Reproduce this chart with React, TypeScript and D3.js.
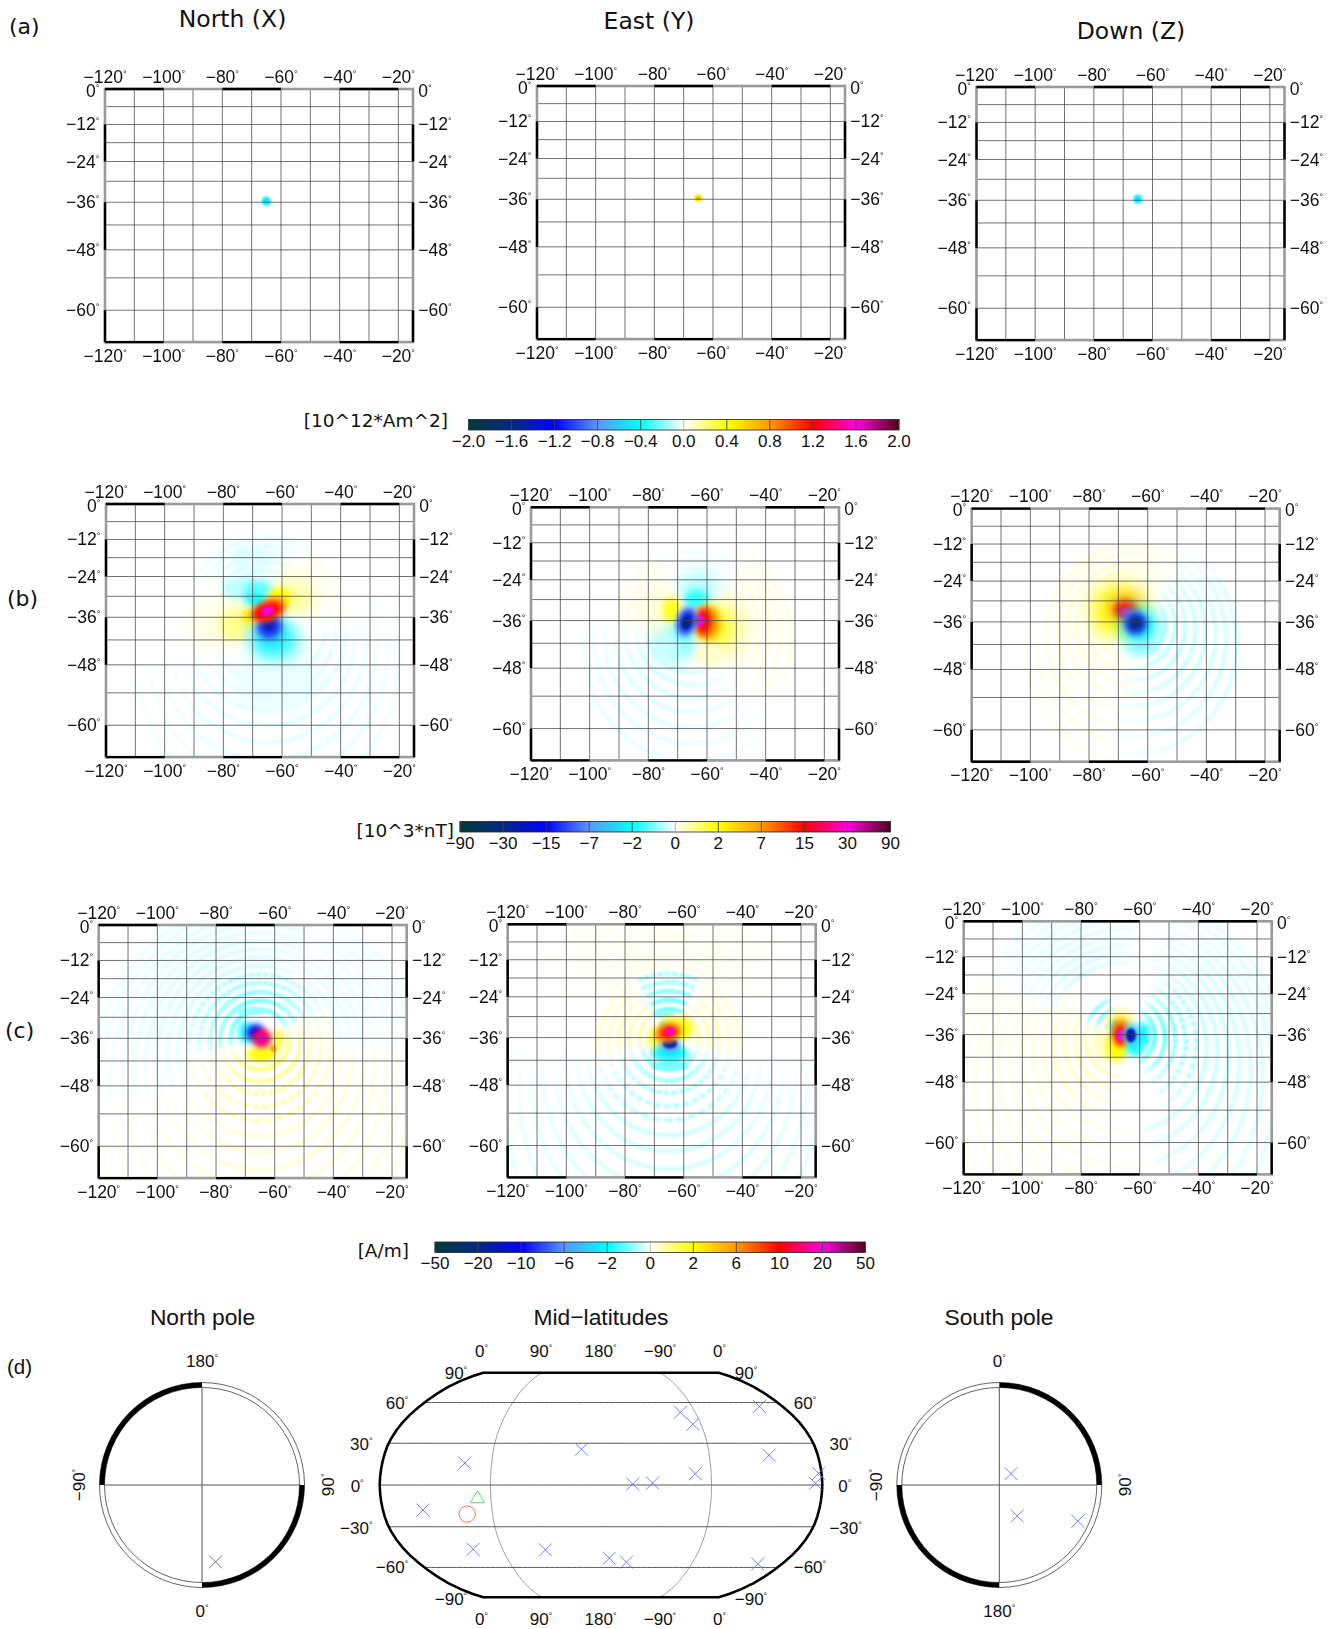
import React from 'react';
import * as d3 from 'd3';

const W = 1341;
const H = 1629;
const SANS = '"Liberation Sans", Arial, sans-serif';
const DEJA = '"DejaVu Sans", sans-serif';

// map axes
const lonExtent = [-120, -15];
const latExtent = [0, -65];
const lonTicks = [-120, -100, -80, -60, -40, -20];
const latTicks = [0, -12, -24, -36, -48, -60];
const lonGrid = [-110, -100, -90, -80, -70, -60, -50, -40, -30, -20];
const latGrid = [-6, -12, -18, -24, -30, -36, -42, -48, -54, -60];
const source = [-65, -36];

// colour scale, -1..1 along the bar
const colorPos = [-1, -0.8, -0.6, -0.4, -0.2, 0, 0.2, 0.4, 0.6, 0.8, 1];
const colorStops = ['#003a3a', '#002a82', '#0000ff', '#5a96ff', '#00ffff', '#ffffff', '#ffff00', '#ff9a00', '#ff0000', '#ff00e0', '#500018'];
const fieldColor = d3.scaleLinear<string>().domain(colorPos).range(colorStops).clamp(true);

const ticksA = ['−2.0', '−1.6', '−1.2', '−0.8', '−0.4', '0.0', '0.4', '0.8', '1.2', '1.6', '2.0'];
const ticksB = ['−90', '−30', '−15', '−7', '−2', '0', '2', '7', '15', '30', '90'];
const ticksC = ['−50', '−20', '−10', '−6', '−2', '0', '2', '6', '10', '20', '50'];

// field lobes: lon offset, lat offset, radius lon-ish, radius lat-ish (arc deg), rotation, value
type Lobe = [number, number, number, number, number, number];
const lobesA1: Lobe[] = [[0, 0.3, 1.0, 1.0, 0, -0.2], [0, 0.3, 0.4, 0.4, 0, -0.3]];
const lobesA2: Lobe[] = [[0, 0.3, 0.8, 0.8, 0, 0.2], [0, 0.3, 0.3, 0.3, 0, 0.42]];
const lobesA3: Lobe[] = [[0, 0.3, 1.0, 1.0, 0, -0.2], [0, 0.3, 0.4, 0.4, 0, -0.3]];
const lobesB1: Lobe[] = [
  [3.2, -15.3, 11.9, 8.3, 0, -0.018], [10, 8.5, 6.4, 6.4, 0, 0.02], [-19.5, -2.5, 5.5, 5.5, 0, 0.02],
  [-5.3, 17.7, 5.5, 3.2, 0, -0.025], [-8.2, 8.1, 5.5, 3.2, 0, -0.05], [-3.1, 7.2, 4.1, 2.8, 0, -0.12],
  [-3.9, 4.7, 2.6, 1.8, 0, -0.2], [-11.6, -2.5, 3.2, 3.7, 0, 0.07], [-9.3, -1.6, 5, 4.1, 0, 0.09],
  [8.9, 5.3, 4.6, 3.7, 0, 0.09], [4.3, 5.8, 2.8, 2.3, 0, 0.2], [2.6, -6.1, 6.4, 5, 0, -0.15],
  [0.9, -4.3, 4.1, 3.7, 0, -0.26], [0.6, -2.5, 3.2, 3.2, 0, -0.5], [0.6, -2.1, 1.7, 1.7, 0, -0.72],
  [-5.9, 0.1, 2, 1.7, 0, 0.25], [3.2, 3.8, 2.6, 2, 0, 0.3], [0.3, 1.7, 4.4, 2.4, -20, 0.5],
  [-0.2, 1.7, 3.5, 1.7, -20, 0.6], [0.1, 1.8, 1.6, 1, -20, 0.8],
];
const lobesB2: Lobe[] = [
  [2, 8.9, 5, 4.6, 0, -0.06], [1.5, 6.1, 3.2, 2.3, 0, -0.16], [-5.3, -4.9, 4.6, 5, 0, -0.14],
  [-8.8, -7.2, 4.6, 4.6, 0, -0.04], [-11, 2.9, 4.6, 5.5, 0, 0.03], [-7, 2.9, 2.3, 3.2, 0, 0.18],
  [12.8, -2.6, 5.5, 8.3, 0, 0.04], [8.3, -1.7, 5, 5.5, 0, 0.16], [6, -9, 3.7, 2.8, 0, 0.04],
  [5.5, -0.7, 3.2, 4.6, 0, 0.35], [3.8, -0.3, 2.2, 3.5, 0, 0.58], [2.7, 0, 1, 1.4, 0, 0.78],
  [-1.9, -0.3, 2.4, 3.9, 15, -0.4], [-1.9, -0.3, 1.7, 2.8, 15, -0.65], [-1.9, -0.7, 0.9, 1.3, 15, -0.82],
];
const lobesB3: Lobe[] = [
  [-4.5, 3.3, 9.2, 9.2, 0, 0.05], [-5.1, 4.2, 6.4, 5.5, 0, 0.16], [-6.8, 0.6, 3.7, 3.7, 0, 0.18],
  [-2.8, 3.8, 4.1, 3.7, 0, 0.38], [-2.5, 3.3, 2.9, 2.3, 0, 0.58], [-2.7, 2.6, 1.1, 1.3, 0, 0.72],
  [3.4, -7.2, 4.6, 1.4, 0, -0.05], [2.3, -1.3, 4.8, 5, 0, -0.22], [0.9, -0.4, 2.9, 2.9, 0, -0.5],
  [0.9, -0.4, 1.8, 1.8, 0, -0.82],
];
const lobesC1: Lobe[] = [
  [0.6, -4.3, 4.1, 1.7, 0, 0.2], [-3.4, 7.8, 4.1, 0.9, 0, -0.08], [-5.1, 1.8, 1.8, 2.8, 0, -0.15],
  [6.2, -0.5, 1.4, 2.8, 0, 0.15], [4.5, -2.8, 0.7, 0.7, 0, 0.35], [-2.3, 1.4, 2.4, 2.2, 0, -0.3],
  [-1.7, 1.8, 2, 1.5, -30, -0.6], [0.6, 0, 2.2, 2.2, 0, 0.6], [0.6, 0, 1.4, 1.6, 0, 0.82],
];
const lobesC2: Lobe[] = [
  [-1.9, 6.7, 2.8, 0.7, 0, -0.1], [-0.8, 3.5, 1.8, 1.1, 0, -0.15], [-4.2, -0.2, 2.3, 2.8, 0, 0.15],
  [4.9, 2.6, 2.3, 2.8, 0, 0.2], [1.5, 4.4, 3.2, 1.4, 0, 0.15], [0.3, -7.5, 5, 1.1, 0, -0.1],
  [0.3, -4.3, 5, 1.8, 0, -0.2], [0.3, -2, 2.6, 1.7, 0, -0.4], [0.3, -1.6, 1.7, 1.1, 0, -0.72],
  [-0.2, 1.4, 3.7, 2.3, -15, 0.3], [-0.2, 1.4, 2.6, 1.7, -15, 0.58], [0.3, 1.7, 1.1, 0.9, -15, 0.78],
];
const lobesC3: Lobe[] = [
  [-7.4, -3.3, 2.8, 4.6, 0, 0.04], [-2.8, -3.3, 2.8, 3.7, 0, 0.2], [-1.7, 4, 3.7, 2.8, 0, 0.08],
  [-3.4, 1.7, 0.9, 2, 0, -0.2], [6.3, -0.1, 1.4, 3.2, 0, -0.2], [3.4, -3.3, 2.3, 2.3, 0, -0.18],
  [-1.5, 0.8, 2.3, 3.7, 0, 0.35], [-1.5, -0.1, 1.5, 2.8, 0, 0.6], [-1.6, -0.2, 0.8, 1.4, 0, 0.8],
  [2.3, -0.1, 2, 2.8, 0, -0.3], [2, -0.2, 1.1, 1.7, 0, -0.7],
];

// ripples: bearing from, bearing to, peak value, dashed, radii in arc degrees
type Ripple = { a0: number; a1: number; v: number; dash?: boolean; radii: number[] };
const nearRadii = [8.2, 11, 13.8, 16.6, 19.4];
const farRadii = [22.2, 25, 27.8, 30.6, 33.4, 36.2, 39, 41.8, 44.6];
const ripplesB1: Ripple[] = [
  { a0: -70, a1: 40, v: -0.035, radii: [11, 13.7, 16.4, 19.1, 21.8, 24.5] },
  { a0: 90, a1: 240, v: -0.025, radii: [16, 18.7, 21.4, 24.1, 26.8, 29.5, 32.2, 34.9] },
  { a0: 30, a1: 110, v: 0.018, radii: [14, 16.7, 19.4, 22.1] },
  { a0: 220, a1: 320, v: 0.018, radii: [10, 12.7, 15.4, 18.1] },
];
const ripplesB2: Ripple[] = [
  { a0: 230, a1: 340, v: 0.03, radii: [10, 12.7, 15.4, 18.1, 20.8] },
  { a0: 40, a1: 150, v: 0.035, radii: [13, 15.7, 18.4, 21.1, 23.8, 26.5] },
  { a0: 150, a1: 260, v: -0.03, radii: [13, 15.7, 18.4, 21.1, 23.8, 26.5, 29.2] },
  { a0: -30, a1: 50, v: -0.015, radii: [13, 15.7, 18.4, 21.1] },
];
const ripplesB3: Ripple[] = [
  { a0: 170, a1: 420, v: 0.04, radii: [10, 12.7, 15.4, 18.1, 20.8, 23.5] },
  { a0: 40, a1: 190, v: -0.05, radii: [9, 11.7, 14.4, 17.1, 19.8, 22.5, 25.2, 27.9] },
  { a0: 180, a1: 260, v: 0.02, radii: [23.5, 26.2, 28.9] },
];
const ripplesC1: Ripple[] = [
  { a0: -130, a1: 90, v: -0.11, dash: true, radii: nearRadii },
  { a0: 70, a1: 250, v: 0.1, dash: true, radii: nearRadii },
  { a0: -140, a1: 50, v: -0.03, radii: farRadii },
  { a0: 90, a1: 230, v: 0.03, radii: farRadii },
  { a0: 30, a1: 110, v: -0.02, radii: farRadii },
];
const ripplesC2: Ripple[] = [
  { a0: -60, a1: 60, v: -0.12, dash: true, radii: nearRadii },
  { a0: 30, a1: 130, v: 0.06, radii: nearRadii },
  { a0: 230, a1: 330, v: 0.06, radii: nearRadii },
  { a0: 110, a1: 250, v: -0.09, dash: true, radii: nearRadii },
  { a0: 110, a1: 250, v: -0.035, radii: farRadii },
  { a0: -80, a1: 80, v: 0.018, radii: farRadii },
];
const ripplesC3: Ripple[] = [
  { a0: 30, a1: 160, v: -0.12, dash: true, radii: nearRadii },
  { a0: 20, a1: 190, v: -0.04, radii: farRadii },
  { a0: 180, a1: 300, v: 0.06, radii: nearRadii },
  { a0: 170, a1: 310, v: 0.022, radii: farRadii },
  { a0: 280, a1: 340, v: -0.12, radii: [5.5, 8.2, 11] },
  { a0: 280, a1: 370, v: -0.03, radii: farRadii },
];

// observatories
const northSites = [[10, 66]];
const southSites = [[46, -85], [150, -79], [114.7, -63.4]];
const midSites = [
  [68, 15.8], [163.6, 25.7], [33, -18], [63, -46.3], [129, -46.7], [-172, -52.9], [-155, -55.9],
  [-154.2, 0.7], [-138, 1.4], [-104.1, 52.6], [-97.2, 43.7], [-23, 57], [-40.5, 21.4], [-103, 8.1],
  [-2.4, 8.4], [-5.5, 1.2], [-24.2, -57.3],
];
const triangleSite = [79.2, -8.4];
const circleSite = [69, -20.9];
const midTopLons = [0, 90, 180, -90, 0];
const midLats = [90, 60, 30, 0, -30, -60, -90];

// Robinson table
const robLat = [0, 5, 10, 15, 20, 25, 30, 35, 40, 45, 50, 55, 60, 65, 70, 75, 80, 85, 90];
const robLen = [1, 0.9986, 0.9954, 0.99, 0.9822, 0.973, 0.96, 0.9427, 0.9216, 0.8962, 0.8679, 0.835, 0.7986, 0.7597, 0.7186, 0.6732, 0.6213, 0.5722, 0.5322];
const robDrop = [0, 0.062, 0.124, 0.186, 0.248, 0.31, 0.372, 0.434, 0.4958, 0.5571, 0.6176, 0.6769, 0.7346, 0.7903, 0.8435, 0.8936, 0.9394, 0.9761, 1];
const lenAt = d3.scaleLinear().domain(robLat).range(robLen);
const dropAt = d3.scaleLinear().domain(robLat).range(robDrop);
const robinsonRaw = (l: number, p: number): [number, number] => {
  const deg = Math.abs(p) * 180 / Math.PI;
  return [0.8487 * lenAt(deg) * l, 1.3523 * dropAt(deg) * Math.sign(p)];
};

const merc = d3.geoMercator().scale(168).translate([0, 0]);
const xMap = d3.scaleLinear().domain(lonExtent).range([0, 308]);
const yMap = (lat: number) => (merc([0, lat]) as number[])[1];
const frameW = xMap(lonExtent[1]);
const frameH = yMap(latExtent[1]);
const pxPerDeg = 3.62;

// point at an arc distance and bearing from the source
function destination(r: number, bearing: number) {
  const rad = Math.PI / 180;
  const p = source[1] * rad;
  const d = r * rad;
  const b = bearing * rad;
  const p2 = Math.asin(Math.sin(p) * Math.cos(d) + Math.cos(p) * Math.sin(d) * Math.cos(b));
  const l = Math.atan2(Math.sin(b) * Math.sin(d) * Math.cos(p), Math.cos(d) - Math.sin(p) * Math.sin(p2));
  return [source[0] + l / rad, p2 / rad];
}

const segPath = d3.line<number[]>().x(d => xMap(d[0])).y(d => yMap(d[1]));

function blurFor(rx: number, ry: number) {
  const m = Math.min(rx, ry) * pxPerDeg;
  if (m < 5) return 'url(#blurS)';
  if (m < 12) return 'url(#blurM)';
  return 'url(#blurL)';
}

function Deg({ label }: { label: string }) {
  return <>{label}<tspan fontSize="9" dy="-6">°</tspan></>;
}

// one ring sector, pieces fade to white towards the sector ends and outwards
function RingSector({ rp }: { rp: Ripple }) {
  const step = 7;
  return (
    <>
      {rp.radii.map((r, i) => d3.range(rp.a0, rp.a1, step).map(a => {
        const fadeA = Math.pow(Math.sin(Math.PI * (a + step / 2 - rp.a0) / (rp.a1 - rp.a0)), 0.7);
        const fadeR = 1 - 0.55 * i / rp.radii.length;
        return (
          <path key={`${r}-${a}`} d={segPath([a, a + step / 2, a + step + 0.6].map(b => destination(r, b))) as string}
            fill="none" stroke={fieldColor(rp.v * fadeA * fadeR)} strokeWidth={4.5}
            strokeDasharray={rp.dash ? '5 3.5' : undefined} />
        );
      }))}
    </>
  );
}

function Panel({ x, y, lobes, ripples, id }: { x: number; y: number; lobes: Lobe[]; ripples: Ripple[]; id: string }) {
  const edgeBars = lonTicks.concat(lonExtent[1]);
  const latBars = latTicks.concat(latExtent[1]);
  return (
    <g transform={`translate(${x},${y})`}>
      <clipPath id={id}><rect width={frameW} height={frameH} /></clipPath>
      <g clipPath={`url(#${id})`}>
        <g filter="url(#blurR)" style={{ mixBlendMode: 'multiply' }}>
          {ripples.map((rp, i) => <RingSector key={i} rp={rp} />)}
        </g>
        {lobes.map((l, i) => {
          const cx = xMap(source[0] + l[0]);
          const cy = yMap(source[1] + l[1]);
          return (
            <ellipse key={i} rx={l[2] * pxPerDeg + 1} ry={l[3] * pxPerDeg + 1} transform={`translate(${cx},${cy}) rotate(${l[4]})`}
              fill={fieldColor(l[5])} filter={blurFor(l[2], l[3])} />
          );
        })}
      </g>
      {lonGrid.map(d => <line key={d} x1={xMap(d)} x2={xMap(d)} y1={0} y2={frameH} stroke="#444" strokeOpacity={0.75} strokeWidth={1} />)}
      {latGrid.map(d => <line key={d} x1={0} x2={frameW} y1={yMap(d)} y2={yMap(d)} stroke="#444" strokeOpacity={0.75} strokeWidth={1} />)}
      <rect width={frameW} height={frameH} fill="none" stroke="#9a9a9a" strokeWidth={2.6} />
      {d3.pairs(edgeBars).map((p, i) => i % 2 === 0 ? (
        <g key={p[0]} stroke="#000" strokeWidth={2.4}>
          <line x1={xMap(p[0])} x2={xMap(p[1])} y1={0} y2={0} />
          <line x1={xMap(p[0])} x2={xMap(p[1])} y1={frameH} y2={frameH} />
        </g>
      ) : null)}
      {d3.pairs(latBars).map((p, i) => i % 2 === 1 ? (
        <g key={p[0]} stroke="#000" strokeWidth={2.4}>
          <line x1={0} x2={0} y1={yMap(p[0])} y2={yMap(p[1])} />
          <line x1={frameW} x2={frameW} y1={yMap(p[0])} y2={yMap(p[1])} />
        </g>
      ) : null)}
      <g fontFamily={SANS} fontSize={17.5} fill="#111">
        {lonTicks.map(d => {
          const lab = `−${Math.abs(d)}`;
          return (
            <g key={d} textAnchor="middle">
              <text x={xMap(d)} y={-6.3}><Deg label={lab} /></text>
              <text x={xMap(d)} y={frameH + 19.7}><Deg label={lab} /></text>
            </g>
          );
        })}
        {latTicks.map(d => {
          const lab = d === 0 ? '0' : `−${Math.abs(d)}`;
          const by = yMap(d) + (d === 0 ? 7.7 : 6);
          return (
            <g key={d}>
              <text x={-5.7} y={by} textAnchor="end"><Deg label={lab} /></text>
              <text x={frameW + 5.3} y={by}><Deg label={lab} /></text>
            </g>
          );
        })}
      </g>
    </g>
  );
}

function ColorBar({ x, y, ticks, unit, unitEnd, unitY }: { x: number; y: number; ticks: string[]; unit: string; unitEnd: number; unitY: number }) {
  const bar = d3.scaleLinear().domain([-1, 1]).range([0, 430.5]);
  return (
    <g>
      <text x={unitEnd} y={unitY} textAnchor="end" fontFamily={DEJA} fontSize={18.5} fill="#111">{unit}</text>
      <g transform={`translate(${x},${y})`}>
        <rect width={430.5} height={10.5} fill="url(#fieldRamp)" stroke="#222" strokeWidth={0.8} />
        {colorPos.map(p => <line key={p} x1={bar(p)} x2={bar(p)} y1={0} y2={10.5} stroke={p === 0 ? '#aaa' : '#444'} strokeWidth={0.9} />)}
        {ticks.map((t, i) => <text key={i} x={bar(colorPos[i])} y={27} textAnchor="middle" fontFamily={SANS} fontSize={17} fill="#111">{t}</text>)}
      </g>
    </g>
  );
}

function crossPath(x: number, y: number, r: number) {
  const p = d3.path();
  p.moveTo(x - r, y - r); p.lineTo(x + r, y + r);
  p.moveTo(x - r, y + r); p.lineTo(x + r, y - r);
  return p.toString();
}

function PoleMap({ cx, sites, south, labels, blackArcs, crossColor }: { cx: number; sites: number[][]; south: boolean; labels: string[]; blackArcs: number[][]; crossColor: string }) {
  const cy = 1485;
  const rIn = 97.5;
  const rOut = 102.5;
  const rScale = d3.scaleLinear().domain([0, 30]).range([0, rIn]);
  const arc = d3.arc();
  return (
    <g>
      <circle cx={cx} cy={cy} r={rOut} fill="#fff" stroke="#555" strokeWidth={0.9} />
      <circle cx={cx} cy={cy} r={rIn} fill="#fff" stroke="#555" strokeWidth={0.9} />
      {blackArcs.map((a, i) => (
        <path key={i} transform={`translate(${cx},${cy})`} fill="#000"
          d={arc({ innerRadius: rIn, outerRadius: rOut, startAngle: a[0] * Math.PI / 180, endAngle: a[1] * Math.PI / 180 }) as string} />
      ))}
      <line x1={cx - rIn} x2={cx + rIn} y1={cy} y2={cy} stroke="#555" strokeWidth={1} />
      <line x1={cx} x2={cx} y1={cy - rIn} y2={cy + rIn} stroke="#555" strokeWidth={1} />
      {sites.map((s, i) => {
        const r = rScale(90 - Math.abs(s[1]));
        const t = s[0] * Math.PI / 180;
        const px = cx + r * Math.sin(t);
        const py = south ? cy - r * Math.cos(t) : cy + r * Math.cos(t);
        return <path key={i} d={crossPath(px, py, 6.5)} fill="none" stroke={crossColor} strokeWidth={0.9} />;
      })}
      <g fontFamily={SANS} fontSize={17} fill="#111">
        <text x={cx} y={1366.7} textAnchor="middle"><Deg label={labels[0]} /></text>
        <text x={cx} y={1616.7} textAnchor="middle"><Deg label={labels[1]} /></text>
        <text transform={`translate(${cx - 117.5},${cy}) rotate(-90)`} textAnchor="middle"><Deg label="−90" /></text>
        <text transform={`translate(${cx + 132},${cy}) rotate(-90)`} textAnchor="middle"><Deg label="90" /></text>
      </g>
    </g>
  );
}

function MidMap() {
  const proj = d3.geoProjection(robinsonRaw).scale(83).translate([601, 1485]).rotate([-180, 0]).precision(0.2);
  const path = d3.geoPath(proj);
  const graticule = d3.geoGraticule().stepMajor([90, 90]).stepMinor([90, 30])
    .extentMajor([[-180, -90], [180.001, 90.001]]).extentMinor([[-180, -90], [180.001, 90.001]]);
  const gap = 16;
  const tri = proj(triangleSite as [number, number]) as number[];
  const circ = proj(circleSite as [number, number]) as number[];
  const triPath = d3.path();
  triPath.moveTo(tri[0] - 7, tri[1] + 6); triPath.lineTo(tri[0], tri[1] - 6); triPath.lineTo(tri[0] + 7, tri[1] + 6); triPath.closePath();
  const labelY = d3.scaleLinear().domain([-90, -60, -30, 0, 30, 60, 90]).range([1605, 1573, 1534, 1491.5, 1450, 1409, 1379]);
  return (
    <g>
      {graticule.lines().filter((l: any) => {
        const c = l.coordinates;
        const isMeridian = c[0][0] === c[1][0];
        return isMeridian ? Math.abs(c[0][0]) !== 180 && c[0][0] !== 0 : Math.abs(c[0][1]) !== 90;
      }).map((l: any, i: number) => {
        const c = l.coordinates;
        const faint = c[0][0] === c[1][0] && Math.abs(c[0][0]) === 90;
        return <path key={i} d={path(l) as string} fill="none" stroke={faint ? '#888' : '#555'} strokeWidth={faint ? 0.8 : 1} />;
      })}
      <path d={path({ type: 'Sphere' } as any) as string} fill="none" stroke="#000" strokeWidth={2.6} />
      {midSites.map((s, i) => {
        const q = proj(s as [number, number]) as number[];
        return <path key={i} d={crossPath(q[0], q[1], 6.5)} fill="none" stroke="#6a6aff" strokeWidth={0.9} />;
      })}
      <path d={triPath.toString()} fill="none" stroke="#55e055" strokeWidth={1} />
      <circle cx={circ[0]} cy={circ[1]} r={8.2} fill="none" stroke="#ff6a6a" strokeWidth={1} />
      <g fontFamily={SANS} fontSize={17} fill="#111" textAnchor="middle">
        {midTopLons.map((d, i) => {
          const px = 481.5 + i * 59.5;
          const lab = d < 0 ? `−${-d}` : `${d}`;
          return (
            <g key={i}>
              <text x={px} y={1357}><Deg label={lab} /></text>
              <text x={px} y={1625}><Deg label={lab} /></text>
            </g>
          );
        })}
      </g>
      <g fontFamily={SANS} fontSize={17} fill="#111">
        {midLats.map(d => {
          const lab = d < 0 ? `−${-d}` : `${d}`;
          const left = proj([0.01, d]) as number[];
          const right = proj([-0.01, d]) as number[];
          return (
            <g key={d}>
              <text x={left[0] - gap} y={labelY(d)} textAnchor="end"><Deg label={lab} /></text>
              <text x={right[0] + gap} y={labelY(d)}><Deg label={lab} /></text>
            </g>
          );
        })}
      </g>
    </g>
  );
}

export default function App() {
  return (
    <svg width={W} height={H} viewBox={`0 0 ${W} ${H}`} style={{ position: 'absolute', left: 0, top: 0, display: 'block', background: '#fff' }}>
      <defs>
        <filter id="blurS" x="-100%" y="-100%" width="300%" height="300%"><feGaussianBlur stdDeviation="1.3" /></filter>
        <filter id="blurM" x="-100%" y="-100%" width="300%" height="300%"><feGaussianBlur stdDeviation="3.4" /></filter>
        <filter id="blurL" x="-100%" y="-100%" width="300%" height="300%"><feGaussianBlur stdDeviation="7.5" /></filter>
        <filter id="blurR" filterUnits="userSpaceOnUse" x="-50" y="-50" width="420" height="370"><feGaussianBlur stdDeviation="1.1" /></filter>
        <linearGradient id="fieldRamp">
          {colorPos.map((p, i) => <stop key={p} offset={(p + 1) / 2} stopColor={colorStops[i]} />)}
        </linearGradient>
      </defs>

      <g fontFamily={DEJA} fontSize={23.5} fill="#111" textAnchor="middle">
        <text x={232.5} y={27}>North (X)</text>
        <text x={649} y={29}>East (Y)</text>
        <text x={1131} y={39}>Down (Z)</text>
      </g>
      <g fontFamily={DEJA} fontSize={22} fill="#111">
        <text x={9} y={34}>(a)</text>
        <text x={7} y={606}>(b)</text>
        <text x={5} y={1038}>(c)</text>
      </g>
      <text x={7} y={1374} fontFamily={SANS} fontSize={20.5} fill="#111">(d)</text>

      <Panel id="a1" x={105} y={89} lobes={lobesA1} ripples={[]} />
      <Panel id="a2" x={537} y={86} lobes={lobesA2} ripples={[]} />
      <Panel id="a3" x={976.5} y={87} lobes={lobesA3} ripples={[]} />
      <ColorBar x={468.5} y={419.5} ticks={ticksA} unit="[10^12*Am^2]" unitEnd={448} unitY={427} />

      <Panel id="b1" x={106} y={504} lobes={lobesB1} ripples={ripplesB1} />
      <Panel id="b2" x={531} y={507.3} lobes={lobesB2} ripples={ripplesB2} />
      <Panel id="b3" x={971.7} y={508.6} lobes={lobesB3} ripples={ripplesB3} />
      <ColorBar x={460} y={821.5} ticks={ticksB} unit="[10^3*nT]" unitEnd={454} unitY={837} />

      <Panel id="c1" x={98.7} y={925} lobes={lobesC1} ripples={ripplesC1} />
      <Panel id="c2" x={507.7} y={924.3} lobes={lobesC2} ripples={ripplesC2} />
      <Panel id="c3" x={963.7} y={921.3} lobes={lobesC3} ripples={ripplesC3} />
      <ColorBar x={435} y={1242} ticks={ticksC} unit="[A/m]" unitEnd={409} unitY={1257} />

      <g fontFamily={SANS} fontSize={22.8} fill="#111" textAnchor="middle">
        <text x={202.5} y={1325}>North pole</text>
        <text x={601} y={1325}>Mid−latitudes</text>
        <text x={999} y={1325}>South pole</text>
      </g>
      <PoleMap cx={202} sites={northSites} south={false} labels={['180', '0']} blackArcs={[[-90, 0], [90, 180]]} crossColor="#666" />
      <MidMap />
      <PoleMap cx={999.3} sites={southSites} south={true} labels={['0', '180']} blackArcs={[[0, 90], [180, 270]]} crossColor="#6a6aff" />
    </svg>
  );
}
